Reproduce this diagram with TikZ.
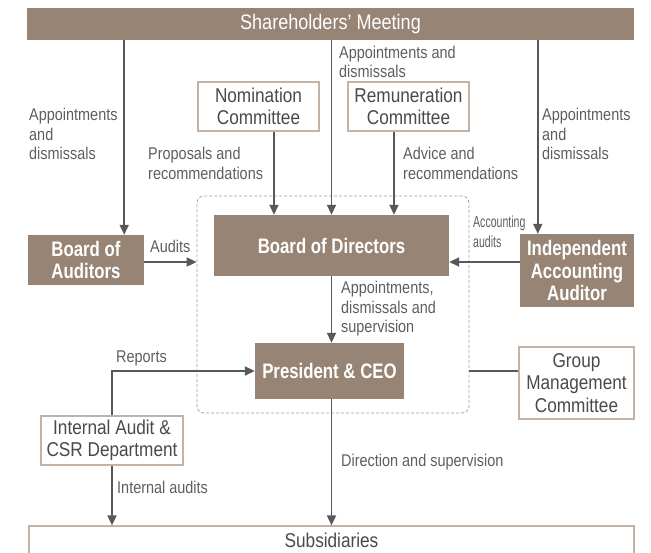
\documentclass[tikz,border=0pt]{standalone}
\usepackage{fontspec}
\usetikzlibrary{arrows.meta}
\newfontfamily\notefont{Liberation Sans}[FakeStretch=0.85]
\newfontfamily\narrowfont{Liberation Sans}[FakeStretch=0.66]
\newfontfamily\boxfont{Liberation Sans}[FakeStretch=0.86]
\newfontfamily\headfont{Liberation Sans}[FakeStretch=0.8]
\definecolor{boxbrown}{HTML}{978474}
\definecolor{edgebrown}{HTML}{C2B3A6}
\definecolor{linegray}{HTML}{58585A}
\definecolor{notegray}{HTML}{5E5E5E}
\definecolor{boxtext}{HTML}{4A4A4A}
\definecolor{framegray}{HTML}{A89C92}
\tikzset{
  brownbox/.style={fill=boxbrown, text=white, align=center, inner sep=0pt,
    font=\headfont\bfseries\fontsize{21}{22.5}\selectfont},
  whitebox/.style={draw=edgebrown, line width=1.2pt, fill=white, text=boxtext,
    align=center, inner sep=0pt, font=\boxfont\fontsize{20}{22.5}\selectfont},
  note/.style={text=notegray, align=left, inner sep=0pt, anchor=west,
    font=\notefont\fontsize{17}{19.5}\selectfont},
  link/.style={draw=linegray, line width=1.8pt},
  arr/.style={link, -{Triangle[length=10pt,width=9pt]}},
  frame/.style={draw=framegray, line width=0.8pt, dash pattern=on 3pt off 2pt,
    rounded corners=7pt, inner sep=0pt}
}
\begin{document}
\begin{tikzpicture}[x=1pt,y=-1pt]
\useasboundingbox (0,0) rectangle (651,553);
% dashed group round the board and the president
\node[frame, minimum width=272pt, minimum height=217pt] (frame) at (333,304.5) {};
% boxes
\node[brownbox, font=\boxfont\fontsize{21}{22}\selectfont, minimum width=607pt, minimum height=32pt] (share) at (330.5,24) {Shareholders’ Meeting};
\node[whitebox, minimum width=121pt, minimum height=49pt] (nom) at (258.5,106.5) {Nomination\\Committee};
\node[whitebox, minimum width=121pt, minimum height=49pt] (rem) at (408.5,106.5) {Remuneration\\Committee};
\node[brownbox, minimum width=116pt, minimum height=50pt] (boa) at (86,260) {Board of\\Auditors};
\node[brownbox, minimum width=235pt, minimum height=61pt] (bod) at (331.5,245.5) {Board of Directors};
\node[brownbox, minimum width=114pt, minimum height=73pt] (iaa) at (577,270.5) {Independent\\Accounting\\Auditor};
\node[brownbox, minimum width=149pt, minimum height=56pt] (pres) at (329.5,371) {President \& CEO};
\node[whitebox, minimum width=115pt, minimum height=72pt] (gmc) at (576.5,383) {Group\\Management\\Committee};
\node[whitebox, minimum width=142pt, minimum height=49pt] (iad) at (112,440.5) {Internal Audit \&\\CSR Department};
\node[whitebox, minimum width=605pt, minimum height=28pt] (sub) at (331.5,540) {Subsidiaries};
% connectors
\draw[arr] ([xshift=-20pt]boa.north east |- share.south) -- ([xshift=-20pt]boa.north east);
\draw[arr] (share.south -| bod.north) -- (bod.north);
\draw[arr] ([xshift=18pt]iaa.north west |- share.south) -- ([xshift=18pt]iaa.north west);
\draw[arr] ([xshift=15.5pt]nom.south) -- ([xshift=15.5pt]nom.south |- bod.north);
\draw[arr] ([xshift=-14.5pt]rem.south) -- ([xshift=-14.5pt]rem.south |- bod.north);
\draw[arr] ([yshift=-2pt]boa.east) -- ([yshift=-2pt]boa.east -| frame.west);
\draw[arr] ([yshift=8.5pt]iaa.west) -- ([yshift=8.5pt]iaa.west -| bod.east);
\draw[arr] (bod.south) -- (bod.south |- pres.north);
\draw[link] (frame.east |- pres.east) -- (gmc.west |- pres.east);
\draw[arr] (iad.north) |- (pres.west);
\draw[arr] (iad.south) -- (iad.south |- sub.north);
\draw[arr] (bod.south |- pres.south) -- (bod.south |- sub.north);
% labels
\node[note] (apL) at (29,134) {Appointments\\and\\dismissals};
\node[note] (apM) at (339,62) {Appointments and\\dismissals};
\node[note] (apR) at (542,134) {Appointments\\and\\dismissals};
\node[note] (prop) at (148,163.5) {Proposals and\\recommendations};
\node[note] (adv) at (403,163.5) {Advice and\\recommendations};
\node[note] (aud) at (150,246) {Audits};
\node[note, font=\narrowfont\fontsize{16}{20}\selectfont] (acc) at (473,232) {Accounting\\audits};
\node[note] (apB) at (341,309) {Appointments,\\dismissals and\\supervision};
\node[note] (rep) at (116,358) {Reports};
\node[note] (intA) at (117,487) {Internal audits};
\node[note] (dir) at (341,462) {Direction and supervision};
\end{tikzpicture}
\end{document}
